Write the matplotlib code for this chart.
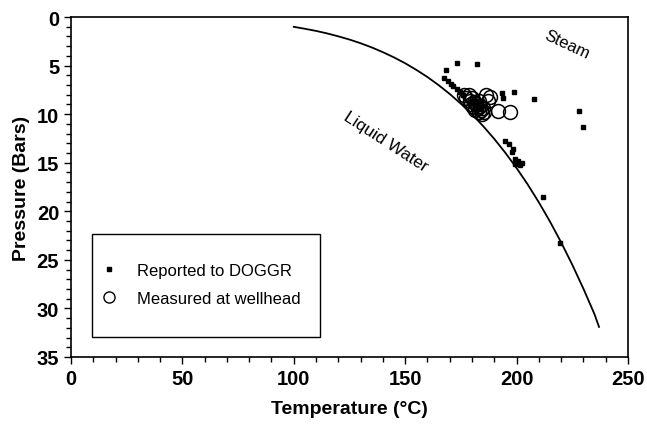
import matplotlib
matplotlib.use('Agg')
import matplotlib.pyplot as plt
from matplotlib.ticker import MultipleLocator
from matplotlib.lines import Line2D
from matplotlib.patches import Rectangle

plt.rcParams['font.family'] = ['Liberation Sans', 'DejaVu Sans']

# saturation curve (steam table values)
sat_temp = [100, 105, 110, 115, 120, 125, 130, 135, 140, 145, 150, 155, 160, 165,
            170, 175, 180, 185, 190, 195, 200, 205, 210, 215, 220, 225, 230, 235, 237]
sat_pres = [1.01, 1.21, 1.43, 1.69, 1.99, 2.32, 2.70, 3.13, 3.62, 4.16, 4.76, 5.44, 6.18, 7.01,
            7.92, 8.93, 10.03, 11.23, 12.55, 13.99, 15.55, 17.24, 19.08, 21.06, 23.20, 25.50,
            27.97, 30.61, 31.9]

# reported to DOGGR
rep_temp = [168.3, 167.6, 169.1, 170.5, 171.6, 173.1, 174.5, 173.1, 182.1, 193.3, 193.8,
            198.8, 207.9, 194.8, 196.7, 198.2, 197.8, 199.3, 200.8, 202.3, 199.3, 201.5,
            212.0, 219.5, 228.0, 230.0, 176.0, 180.0, 184.0]
rep_pres = [5.5, 6.3, 6.6, 6.9, 7.1, 7.4, 7.7, 4.7, 4.8, 7.8, 8.3,
            7.7, 8.4, 12.8, 13.1, 13.6, 13.9, 14.6, 14.8, 15.0, 15.1, 15.2,
            18.5, 23.3, 9.7, 11.3, 8.0, 8.6, 9.5]

# measured at wellhead
meas_temp = [176.5, 177.5, 178.5, 179.0, 179.5, 180.0, 180.5, 181.0, 181.5, 182.0, 182.5,
             183.0, 183.5, 184.0, 184.5, 185.0, 185.5, 183.0, 186.5, 188.0, 187.0, 191.5, 197.0]
meas_pres = [8.0, 8.3, 8.0, 8.6, 9.0, 8.3, 9.3, 8.8, 9.6, 9.0, 9.4,
             9.8, 9.2, 9.6, 10.0, 9.4, 9.8, 8.6, 8.0, 8.2, 8.6, 9.7, 9.8]

fig = plt.figure(figsize=(6.47, 4.27), dpi=100)
ax = fig.add_axes([0.1097, 0.1616, 0.8609, 0.7962])

ax.plot(sat_temp, sat_pres, color='black', linewidth=1.3)
ax.plot(rep_temp, rep_pres, linestyle='none', marker='s', markersize=3,
        color='black')
ax.plot(meas_temp, meas_pres, linestyle='none', marker='o', markersize=10,
        markerfacecolor='none', markeredgecolor='black', markeredgewidth=1.1)

ax.set_xlim(0, 250)
ax.set_ylim(35, 0)
ax.xaxis.set_major_locator(MultipleLocator(50))
ax.xaxis.set_minor_locator(MultipleLocator(10))
ax.yaxis.set_major_locator(MultipleLocator(5))
ax.yaxis.set_minor_locator(MultipleLocator(1))
ax.tick_params(which='both', direction='out', width=1, top=False, right=False)
ax.tick_params(which='major', length=5, labelsize=14.5)
ax.tick_params(which='minor', length=3.5)
for lbl in ax.get_xticklabels() + ax.get_yticklabels():
    lbl.set_fontweight('bold')
for s in ax.spines.values():
    s.set_linewidth(1.2)

ax.set_xlabel('Temperature (°C)', fontsize=14, fontweight='bold', labelpad=9)
ax.set_ylabel('Pressure (Bars)', fontsize=14, fontweight='bold', labelpad=5)

ax.text(222.6, 2.8, 'Steam', rotation=-25, fontsize=12, ha='center', va='center')
ax.text(141.4, 12.8, 'Liquid Water', rotation=-33, fontsize=12.5, ha='center', va='center')

# legend box drawn by hand, entries without frame
ax.add_patch(Rectangle((0.0377, 0.0588), 0.409, 0.303, transform=ax.transAxes,
                       facecolor='white', edgecolor='black', linewidth=1.0, zorder=4))
handles = [
    Line2D([], [], linestyle='none', marker='s', markersize=3, color='black'),
    Line2D([], [], linestyle='none', marker='o', markersize=8, markerfacecolor='none',
           markeredgecolor='black', markeredgewidth=1),
]
leg = ax.legend(handles, ['Reported to DOGGR', 'Measured at wellhead'],
                loc='upper left', bbox_to_anchor=(0.053, 0.276), fontsize=12,
                frameon=False, borderpad=0, borderaxespad=0,
                labelspacing=0.75, handlelength=1.0, handletextpad=1.2)
leg.set_zorder(5)

plt.savefig('out.png', dpi=100)
